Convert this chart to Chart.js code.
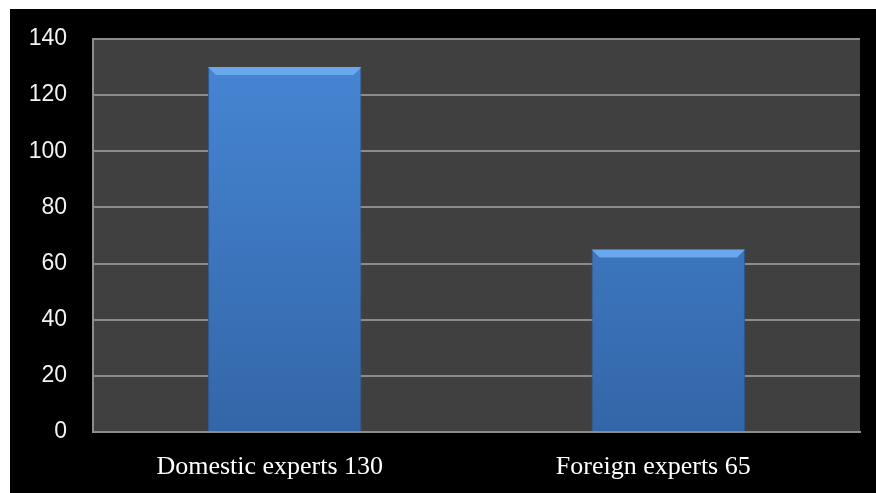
<!DOCTYPE html>
<html>
<head>
<meta charset="utf-8">
<script src="https://cdn.jsdelivr.net/npm/chart.js@4/dist/chart.umd.min.js"></script>
<style>
  body { margin: 0; background: #fff; }
  .wrap { position: absolute; left: 10px; top: 9px; width: 866px; height: 484px; background: #000; }
</style>
</head>
<body>
<div class="wrap"><canvas id="myChart" width="866" height="484"></canvas></div>
<script>
// data
const categories = ['Domestic experts 130', 'Foreign experts 65']
const values = [130, 65]
const yTicks = [0, 20, 40, 60, 80, 100, 120, 140]

// plot area background
const plotBg = {
  id: 'plotBg',
  beforeDraw(chart) {
    const { ctx, chartArea: a } = chart
    ctx.save()
    ctx.fillStyle = '#404040'
    ctx.fillRect(a.left, a.top, a.right - a.left, a.bottom - a.top)
    ctx.restore()
  }
}

// bar fill, light at top and darker down
function barFill(context) {
  const a = context.chart.chartArea
  if (!a) return '#3f7fcf'
  const g = context.chart.ctx.createLinearGradient(0, a.top, 0, a.bottom)
  g.addColorStop(0, '#4787d6')
  g.addColorStop(1, '#3366a8')
  return g
}

// bevel strip on top of each bar
const bevel = {
  id: 'bevel',
  afterDatasetsDraw(chart) {
    const ctx = chart.ctx
    chart.getDatasetMeta(0).data.forEach(bar => {
      const l = bar.x - bar.width / 2, r = bar.x + bar.width / 2, t = bar.y
      ctx.save()
      ctx.fillStyle = '#6aa8ee'
      ctx.beginPath()
      ctx.moveTo(l, t)
      ctx.lineTo(r, t)
      ctx.lineTo(r - 8, t + 8)
      ctx.lineTo(l + 8, t + 8)
      ctx.closePath()
      ctx.fill()
      ctx.restore()
    })
  }
}

const ctx = document.getElementById('myChart').getContext('2d')
const myChart = new Chart(ctx, {
  type: 'bar',
  data: {
    labels: categories,
    datasets: [{
      data: values,
      backgroundColor: barFill,
      borderColor: '#2d5b96',
      borderWidth: 1,
      categoryPercentage: 0.4,
      barPercentage: 1,
    }]
  },
  plugins: [plotBg, bevel],
  options: {
    responsive: false,
    animation: false,
    layout: { padding: { top: 0, right: 16, left: 0, bottom: 0 } },
    plugins: {
      legend: { display: false },
      tooltip: { enabled: false }
    },
    scales: {
      x: {
        grid: { display: false, drawTicks: false },
        border: { color: '#8c8c8c', width: 2 },
        ticks: {
          color: '#ffffff',
          font: { family: '"Liberation Serif", "Times New Roman", serif', size: 26 },
          padding: 20,
          labelOffset: -15,
          maxRotation: 0
        },
        afterFit: scale => { scale.height = 61 }
      },
      y: {
        min: 0,
        max: 140,
        afterBuildTicks: scale => { scale.ticks = yTicks.map(v => ({ value: v })) },
        grid: { color: '#8c8c8c', lineWidth: 2, drawTicks: false },
        border: { color: '#8c8c8c', width: 2 },
        ticks: {
          color: '#f2f2f2',
          font: { family: '"Liberation Sans", Arial, sans-serif', size: 23 },
          padding: 26
        },
        afterFit: scale => {
          scale.width = 83
          scale.paddingTop = 30
          scale.paddingBottom = 14
        }
      }
    }
  }
})
</script>
</body>
</html>
